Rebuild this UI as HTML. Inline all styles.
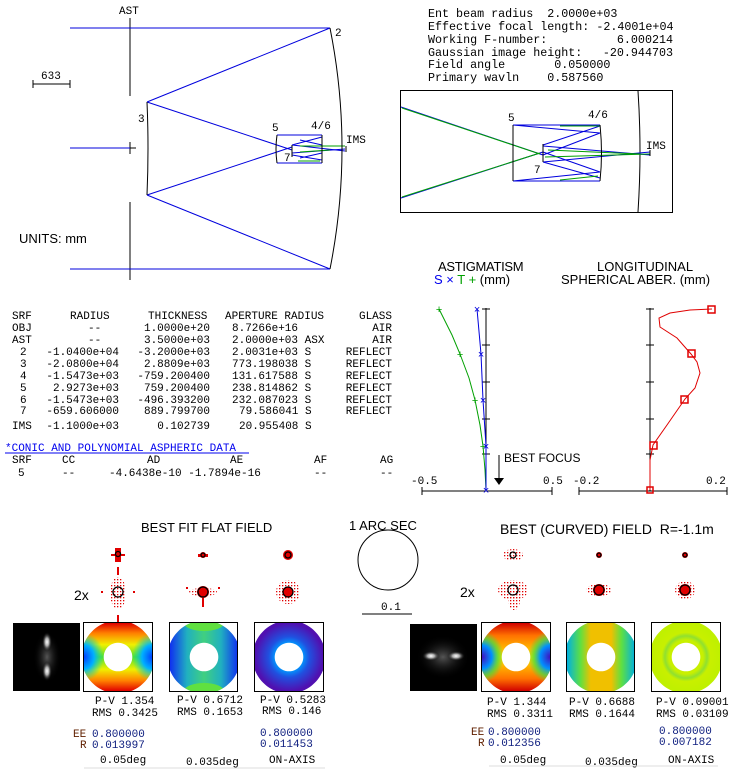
<!DOCTYPE html>
<html><head><meta charset="utf-8"><style>
body{margin:0;background:#fff;}
svg{display:block;}
text{white-space:pre;}
.m{font-family:"Liberation Mono",monospace;font-size:11px;fill:#000;}
.t{font-family:"Liberation Mono",monospace;font-size:11.7px;fill:#000;}
.s{font-family:"Liberation Sans",sans-serif;fill:#000;}
.b{fill:#0000ee}
</style></head><body>
<svg width="743" height="773" viewBox="0 0 743 773" xmlns="http://www.w3.org/2000/svg">
<defs>
<clipPath id="annU" clipPathUnits="userSpaceOnUse"><path clip-rule="evenodd" d="M34,-2.5A36.5,36.5 0 1,1 33.99,-2.5ZM34,19.7A14.3,14.3 0 1,0 34.01,19.7Z"/></clipPath>
<pattern id="dots" width="3" height="3" patternUnits="userSpaceOnUse"><rect width="1.3" height="1.3" fill="#e00000"/></pattern>
<linearGradient id="v1" x1="0" y1="0" x2="0" y2="1"><stop offset="0" stop-color="#e00000"/><stop offset=".15" stop-color="#ff8000"/><stop offset=".32" stop-color="#f0f000"/><stop offset=".5" stop-color="#50e030"/><stop offset=".68" stop-color="#f0f000"/><stop offset=".85" stop-color="#ff8000"/><stop offset="1" stop-color="#e00000"/></linearGradient>
<radialGradient id="sideB"><stop offset="0" stop-color="#0040ff"/><stop offset=".5" stop-color="#00b0ff"/><stop offset="1" stop-color="#00e0a0" stop-opacity="0"/></radialGradient>
<radialGradient id="sideP"><stop offset="0" stop-color="#4010c0"/><stop offset=".45" stop-color="#0090ff"/><stop offset=".75" stop-color="#40e040" stop-opacity=".7"/><stop offset="1" stop-color="#40e040" stop-opacity="0"/></radialGradient>
<linearGradient id="v2" x1="0" y1="0" x2="1" y2="0"><stop offset="0" stop-color="#1030f0"/><stop offset=".25" stop-color="#20b0c0"/><stop offset=".5" stop-color="#40d080"/><stop offset=".75" stop-color="#20b0c0"/><stop offset="1" stop-color="#1030f0"/></linearGradient>
<radialGradient id="r3"><stop offset=".4" stop-color="#0098ff"/><stop offset=".6" stop-color="#2050e0"/><stop offset="1" stop-color="#5010b0"/></radialGradient>
<linearGradient id="v4" x1="0" y1="0" x2="0" y2="1"><stop offset="0" stop-color="#d00000"/><stop offset=".18" stop-color="#ff7000"/><stop offset=".4" stop-color="#ffc000"/><stop offset=".5" stop-color="#f0e000"/><stop offset=".6" stop-color="#ffc000"/><stop offset=".82" stop-color="#ff7000"/><stop offset="1" stop-color="#d00000"/></linearGradient>
<linearGradient id="v5" x1="0" y1="0" x2="1" y2="0"><stop offset="0" stop-color="#00b0e0"/><stop offset=".2" stop-color="#60e040"/><stop offset=".35" stop-color="#f0c000"/><stop offset=".65" stop-color="#f0c000"/><stop offset=".8" stop-color="#60e040"/><stop offset="1" stop-color="#00b0e0"/></linearGradient>
<radialGradient id="r6"><stop offset=".5" stop-color="#c8f000"/><stop offset=".62" stop-color="#90e030"/><stop offset=".72" stop-color="#c8f000"/><stop offset="1" stop-color="#c0f000"/></radialGradient>
<radialGradient id="blob"><stop offset="0" stop-color="#fff"/><stop offset=".4" stop-color="#aaa"/><stop offset="1" stop-color="#000" stop-opacity="0"/></radialGradient>
<radialGradient id="halo"><stop offset="0" stop-color="#555"/><stop offset="1" stop-color="#000" stop-opacity="0"/></radialGradient>
</defs>

<!-- top left layout -->
<text x="119" y="14" class="m">AST</text>
<line x1="130" y1="18" x2="130" y2="96" stroke="#000"/>
<line x1="130" y1="202" x2="130" y2="280" stroke="#000"/>
<line x1="130" y1="142" x2="130" y2="154" stroke="#000"/>
<line x1="124" y1="148" x2="136" y2="148" stroke="#000"/>
<g stroke="#0000dd" fill="none">
<line x1="70" y1="28" x2="330" y2="28"/><line x1="70" y1="269" x2="330" y2="269"/><line x1="70" y1="148" x2="130" y2="148"/>
<line x1="330" y1="28" x2="147" y2="102"/><line x1="330" y1="269" x2="147" y2="195"/>
<line x1="147" y1="102" x2="292" y2="150"/><line x1="147" y1="195" x2="292" y2="147"/>
<line x1="277" y1="135" x2="322" y2="135"/><line x1="277" y1="163" x2="322" y2="163"/>
<line x1="322" y1="137" x2="292" y2="145"/><line x1="322" y1="160" x2="292" y2="155"/>
<line x1="292" y1="145" x2="345" y2="151"/><line x1="292" y1="153" x2="345" y2="149"/>
<line x1="300" y1="140" x2="322" y2="145"/><line x1="300" y1="158" x2="322" y2="153"/>
</g>
<g stroke="#00a000" fill="none"><line x1="300" y1="146" x2="345" y2="146"/><line x1="300" y1="152" x2="330" y2="150"/><line x1="298" y1="161" x2="320" y2="161"/></g>
<path d="M330,28 Q354,148 330,269" stroke="#000" fill="none"/>
<path d="M147,102 Q149,148 147,195" stroke="#000" fill="none"/>
<path d="M277,135 Q275,149 277,163" stroke="#000" fill="none"/>
<line x1="322" y1="135" x2="322" y2="163" stroke="#000"/>
<line x1="292" y1="145" x2="292" y2="157" stroke="#000"/>
<line x1="346" y1="146" x2="346" y2="152" stroke="#000"/>
<text x="335" y="36" class="m">2</text>
<text x="138" y="122" class="m">3</text>
<text x="272" y="131" class="m">5</text>
<text x="311" y="129" class="m">4/6</text>
<text x="284" y="161" class="m">7</text>
<text x="346" y="143" class="m">IMS</text>
<text x="41" y="79" class="m">633</text>
<line x1="33" y1="84" x2="70" y2="84" stroke="#000"/><line x1="33" y1="80" x2="33" y2="88" stroke="#000"/><line x1="70" y1="80" x2="70" y2="88" stroke="#000"/>
<text x="19" y="243" class="s" font-size="13">UNITS: mm</text>

<!-- top right text -->
<g class="t"><text x="428" y="17">Ent beam radius  2.0000e+03</text>
<text x="428" y="30">Effective focal length: -2.4001e+04</text>
<text x="428" y="43">Working F-number:</text><text x="673" y="43" text-anchor="end">6.000214</text>
<text x="428" y="56">Gaussian image height:</text><text x="673" y="56" text-anchor="end">-20.944703</text>
<text x="428" y="68">Field angle       0.050000</text>
<text x="428" y="81">Primary wavln    0.587560</text></g>
<rect x="400.5" y="90.5" width="272" height="122" fill="none" stroke="#000"/>
<path d="M638,91 Q642,151 638,212" stroke="#000" fill="none"/>
<g stroke="#0000dd" fill="none">
<line x1="401" y1="107" x2="543" y2="155"/><line x1="401" y1="198" x2="543" y2="152"/>
<line x1="513" y1="125" x2="600" y2="125"/><line x1="513" y1="181" x2="600" y2="181"/>
<line x1="600" y1="126" x2="543" y2="145"/><line x1="600" y1="133" x2="543" y2="155"/>
<line x1="543" y1="146" x2="650" y2="155"/><line x1="543" y1="162" x2="650" y2="152"/>
<line x1="543" y1="152" x2="600" y2="172"/><line x1="543" y1="162" x2="600" y2="178"/>
<line x1="513" y1="125" x2="600" y2="133"/><line x1="513" y1="181" x2="600" y2="172"/>
</g>
<g stroke="#00a000" fill="none">
<line x1="402" y1="108" x2="540" y2="154"/><line x1="402" y1="197" x2="540" y2="153"/>
<line x1="545" y1="157" x2="650" y2="154"/><line x1="548" y1="150" x2="640" y2="154"/>
<line x1="560" y1="126" x2="600" y2="126"/><line x1="560" y1="180" x2="598" y2="176"/>
</g>
<line x1="513" y1="125" x2="513" y2="181" stroke="#000"/>
<path d="M600,125 Q603,153 600,181" stroke="#000" fill="none"/>
<line x1="543" y1="144" x2="543" y2="162" stroke="#000"/>
<line x1="650" y1="150" x2="650" y2="156" stroke="#000"/>
<text x="508" y="121" class="m">5</text>
<text x="588" y="118" class="m">4/6</text>
<text x="534" y="173" class="m">7</text>
<text x="646" y="149" class="m">IMS</text>

<!-- table -->
<g class="m">
<text x="12" y="319">SRF</text><text x="70" y="319">RADIUS</text><text x="148" y="319">THICKNESS</text><text x="225" y="319">APERTURE RADIUS</text><text x="392" y="319" text-anchor="end">GLASS</text>
<text x="12" y="331">OBJ</text><text x="88" y="331">--</text><text x="210" y="331" text-anchor="end">1.0000e+20</text><text x="232" y="331">8.7266e+16</text><text x="392" y="331" text-anchor="end">AIR</text>
<text x="12" y="343">AST</text><text x="88" y="343">--</text><text x="210" y="343" text-anchor="end">3.5000e+03</text><text x="232" y="343">2.0000e+03 ASX</text><text x="392" y="343" text-anchor="end">AIR</text>
<text x="20" y="355">2</text><text x="119" y="355" text-anchor="end">-1.0400e+04</text><text x="210" y="355" text-anchor="end">-3.2000e+03</text><text x="232" y="355">2.0031e+03 S</text><text x="392" y="355" text-anchor="end">REFLECT</text>
<text x="20" y="367">3</text><text x="119" y="367" text-anchor="end">-2.0800e+04</text><text x="210" y="367" text-anchor="end">2.8809e+03</text><text x="232" y="367">773.198038 S</text><text x="392" y="367" text-anchor="end">REFLECT</text>
<text x="20" y="379">4</text><text x="119" y="379" text-anchor="end">-1.5473e+03</text><text x="210" y="379" text-anchor="end">-759.200400</text><text x="232" y="379">131.617588 S</text><text x="392" y="379" text-anchor="end">REFLECT</text>
<text x="20" y="391">5</text><text x="119" y="391" text-anchor="end">2.9273e+03</text><text x="210" y="391" text-anchor="end">759.200400</text><text x="232" y="391">238.814862 S</text><text x="392" y="391" text-anchor="end">REFLECT</text>
<text x="20" y="403">6</text><text x="119" y="403" text-anchor="end">-1.5473e+03</text><text x="210" y="403" text-anchor="end">-496.393200</text><text x="232" y="403">232.087023 S</text><text x="392" y="403" text-anchor="end">REFLECT</text>
<text x="20" y="414">7</text><text x="119" y="414" text-anchor="end">-659.606000</text><text x="210" y="414" text-anchor="end">889.799700</text><text x="239" y="414">79.586041 S</text><text x="392" y="414" text-anchor="end">REFLECT</text>
<text x="12" y="429">IMS</text><text x="119" y="429" text-anchor="end">-1.1000e+03</text><text x="210" y="429" text-anchor="end">0.102739</text><text x="239" y="429">20.955408 S</text>
<text x="5" y="451" class="b">*CONIC AND POLYNOMIAL ASPHERIC DATA</text>
<text x="12" y="463">SRF</text><text x="62" y="463">CC</text><text x="147" y="463">AD</text><text x="230" y="463">AE</text><text x="314" y="463">AF</text><text x="380" y="463">AG</text>
<text x="18" y="476">5</text><text x="62" y="476">--</text><text x="109" y="476">-4.6438e-10 -1.7894e-16</text><text x="314" y="476">--</text><text x="380" y="476">--</text>
</g>
<line x1="5" y1="453" x2="249" y2="453" stroke="#0000ee"/>

<!-- astigmatism -->
<text x="438" y="271" class="s" font-size="13" letter-spacing="-.3">ASTIGMATISM</text>
<text x="434" y="284" class="s" font-size="13"><tspan fill="#0000ee">S ×</tspan> <tspan fill="#00a000">T +</tspan> (mm)</text>
<line x1="486" y1="308" x2="486" y2="491" stroke="#000"/>
<line x1="422" y1="491" x2="552" y2="491" stroke="#000"/>
<g stroke="#000"><line x1="482" y1="309" x2="490" y2="309"/><line x1="482" y1="345" x2="490" y2="345"/><line x1="482" y1="382" x2="490" y2="382"/><line x1="482" y1="419" x2="490" y2="419"/><line x1="482" y1="454" x2="490" y2="454"/><line x1="422" y1="487" x2="422" y2="495"/><line x1="552" y1="487" x2="552" y2="495"/></g>
<text x="411" y="484" class="m">-0.5</text><text x="543" y="484" class="m">0.5</text>
<polyline points="439,309 452,335 460,354 469,378 475,400 480,425 483,446 485,470 486,490" fill="none" stroke="#00a000"/>
<polyline points="477,309 481,354 483,400 486,446 486,490" fill="none" stroke="#0000dd"/>
<g fill="#00a000" font-family="Liberation Mono" font-size="11" text-anchor="middle"><text x="439" y="313">+</text><text x="460" y="358">+</text><text x="475" y="404">+</text><text x="483" y="450">+</text></g>
<g fill="#0000dd" font-family="Liberation Mono" font-size="11" text-anchor="middle"><text x="477" y="313">×</text><text x="481" y="358">×</text><text x="483" y="404">×</text><text x="486" y="450">×</text><text x="486" y="494">×</text></g>
<line x1="499" y1="455" x2="499" y2="479" stroke="#000"/>
<polygon points="494,478 504,478 499,485" fill="#000"/>
<text x="504" y="462" class="s" font-size="12">BEST FOCUS</text>

<!-- spherical -->
<text x="597" y="271" class="s" font-size="13">LONGITUDINAL</text>
<text x="561" y="284" class="s" font-size="13">SPHERICAL ABER. (mm)</text>
<line x1="650" y1="308" x2="650" y2="491" stroke="#000"/>
<line x1="579" y1="491" x2="727" y2="491" stroke="#000"/>
<g stroke="#000"><line x1="646" y1="309" x2="654" y2="309"/><line x1="646" y1="345" x2="654" y2="345"/><line x1="646" y1="382" x2="654" y2="382"/><line x1="646" y1="419" x2="654" y2="419"/><line x1="646" y1="454" x2="654" y2="454"/><line x1="579" y1="487" x2="579" y2="495"/><line x1="727" y1="487" x2="727" y2="495"/></g>
<text x="573" y="484" class="m">-0.2</text><text x="706" y="484" class="m">0.2</text>
<polyline points="650,490 650,460 653,445 667,425 685,399 695,388 700,373 697,362 691,354 677,338 660,327 659,318 670,313 690,310 712,309" fill="none" stroke="#e00000"/>
<g fill="none" stroke="#e00000" stroke-width="1.5"><rect x="708" y="306" width="7" height="7"/><rect x="688" y="350" width="7" height="7"/><rect x="681" y="396" width="7" height="7"/><rect x="650" y="442" width="7" height="7"/><rect x="647" y="487" width="6" height="6"/></g>

<!-- bottom titles -->
<text x="141" y="532" class="s" font-size="13">BEST FIT FLAT FIELD</text>
<text x="349" y="530" class="s" font-size="13">1 ARC SEC</text>
<circle cx="388" cy="560" r="30" fill="none" stroke="#000"/>
<line x1="362" y1="614" x2="412" y2="614" stroke="#000"/>
<text x="381" y="610" class="m" font-size="9">0.1</text>
<text x="500" y="534" class="s" font-size="14">BEST (CURVED) FIELD  R=-1.1m</text>
<text x="74" y="600" class="s" font-size="14">2x</text>
<text x="460" y="597" class="s" font-size="14">2x</text>

<!-- spots (dotted) -->
<g fill="url(#dots)">
<ellipse cx="118" cy="593" rx="8" ry="16"/>
<ellipse cx="288" cy="592" rx="12" ry="12"/>
<ellipse cx="513" cy="590" rx="15" ry="10"/>
<ellipse cx="514" cy="600" rx="6" ry="10"/>
<ellipse cx="599" cy="590" rx="13" ry="6"/>
<ellipse cx="685" cy="590" rx="10" ry="9"/>
<ellipse cx="513" cy="555" rx="10" ry="6"/>
<ellipse cx="203" cy="592" rx="14" ry="4"/>
</g>
<g fill="#e00000">
<g transform="translate(118,555)"><rect x="-3" y="-7" width="6" height="14"/><rect x="-7" y="-1" width="14" height="2"/></g>
<g transform="translate(203,555)"><rect x="-5" y="-1" width="10" height="3"/><circle r="3"/></g>
<g transform="translate(288,555)"><circle r="5"/></g>
<rect x="117" y="615" width="2" height="10"/><rect x="117" y="567" width="2" height="8"/>
<rect x="101" y="591" width="2" height="2"/><rect x="133" y="591" width="2" height="2"/>
<g transform="translate(203,592)"><circle r="6"/><rect x="-1" y="6" width="2" height="9"/><rect x="-17" y="-5" width="2" height="2"/><rect x="15" y="-5" width="2" height="2"/></g>
<circle cx="288" cy="592" r="5"/>
<g transform="translate(599,555)"><circle r="3"/></g>
<g transform="translate(685,555)"><circle r="3"/></g>
<circle cx="599" cy="590" r="6"/>
<circle cx="685" cy="590" r="6"/>
</g>
<g fill="none" stroke="#000" stroke-width="1.3">
<circle cx="118" cy="554" r="2.5"/><circle cx="203" cy="555" r="2"/><circle cx="288" cy="555" r="3"/>
<circle cx="118" cy="592" r="5"/><circle cx="203" cy="592" r="5"/><circle cx="288" cy="592" r="5"/>
<circle cx="513" cy="555" r="3"/><circle cx="599" cy="555" r="2"/><circle cx="685" cy="555" r="2"/>
<circle cx="513" cy="590" r="5"/><circle cx="599" cy="590" r="5"/><circle cx="685" cy="590" r="5"/>
</g>

<!-- PSFs -->
<rect x="13" y="623" width="67" height="68" fill="#000"/>
<ellipse cx="47" cy="657" rx="14" ry="26" fill="url(#halo)"/>
<ellipse cx="47" cy="642" rx="5" ry="10" fill="url(#blob)"/>
<ellipse cx="47" cy="671" rx="5" ry="10" fill="url(#blob)"/>
<rect x="410" y="624" width="67" height="67" fill="#000"/>
<ellipse cx="443" cy="657" rx="27" ry="22" fill="url(#halo)"/>
<ellipse cx="431" cy="656" rx="9" ry="5" fill="url(#blob)"/>
<ellipse cx="456" cy="656" rx="9" ry="5" fill="url(#blob)"/>

<!-- wavefronts -->
<svg x="84" y="623" width="68" height="68" viewBox="0 0 68 68">
<g clip-path="url(#annU)"><rect width="68" height="68" fill="url(#v1)"/>
<ellipse cx="0" cy="34" rx="20" ry="24" fill="url(#sideB)"/><ellipse cx="68" cy="34" rx="20" ry="24" fill="url(#sideB)"/></g></svg>
<svg x="170" y="623" width="68" height="68" viewBox="0 0 68 68"><g clip-path="url(#annU)"><rect width="68" height="68" fill="url(#v2)"/><ellipse cx="34" cy="0" rx="20" ry="8" fill="#60e040"/><ellipse cx="34" cy="68" rx="20" ry="8" fill="#60e040"/></g></svg>
<svg x="255" y="623" width="68" height="68" viewBox="0 0 68 68"><g clip-path="url(#annU)"><rect width="68" height="68" fill="url(#r3)"/></g></svg>
<svg x="482" y="623" width="68" height="68" viewBox="0 0 68 68"><g clip-path="url(#annU)"><rect width="68" height="68" fill="url(#v4)"/>
<ellipse cx="0" cy="34" rx="22" ry="26" fill="url(#sideP)"/><ellipse cx="68" cy="34" rx="22" ry="26" fill="url(#sideP)"/></g></svg>
<svg x="567" y="623" width="68" height="68" viewBox="0 0 68 68"><g clip-path="url(#annU)"><rect width="68" height="68" fill="url(#v5)"/></g></svg>
<svg x="652" y="623" width="68" height="68" viewBox="0 0 68 68"><g clip-path="url(#annU)"><rect width="68" height="68" fill="url(#r6)"/></g></svg>
<g fill="none" stroke="#000"><rect x="83.5" y="622.5" width="69" height="69"/><rect x="169.5" y="622.5" width="68" height="69"/><rect x="254.5" y="622.5" width="69" height="69"/><rect x="481.5" y="622.5" width="69" height="69"/><rect x="566.5" y="622.5" width="68" height="69"/><rect x="651.5" y="622.5" width="69" height="69"/></g>

<g class="m" font-size="10">
<text x="95" y="704">P-V 1.354</text><text x="92" y="716">RMS 0.3425</text>
<text x="177" y="703">P-V 0.6712</text><text x="177" y="715">RMS 0.1653</text>
<text x="260" y="703">P-V 0.5283</text><text x="262" y="714">RMS 0.146</text>
<text x="487" y="705">P-V 1.344</text><text x="487" y="717">RMS 0.3311</text>
<text x="569" y="705">P-V 0.6688</text><text x="569" y="717">RMS 0.1644</text>
<text x="656" y="705">P-V 0.09001</text><text x="656" y="717">RMS 0.03109</text>
<text x="100" y="763">0.05deg</text><text x="186" y="765">0.035deg</text><text x="269" y="763">ON-AXIS</text>
<text x="500" y="763">0.05deg</text><text x="585" y="765">0.035deg</text><text x="668" y="763">ON-AXIS</text>
</g>
<g class="m" font-size="11">
<text x="73" y="737" fill="#602000">EE</text><text x="92" y="737" fill="#102080">0.800000</text>
<text x="80" y="748" fill="#602000">R</text><text x="92" y="748" fill="#102080">0.013997</text>
<text x="260" y="736" fill="#102080">0.800000</text><text x="260" y="747" fill="#102080">0.011453</text>
<text x="471" y="735" fill="#602000">EE</text><text x="488" y="735" fill="#102080">0.800000</text>
<text x="478" y="746" fill="#602000">R</text><text x="488" y="746" fill="#102080">0.012356</text>
<text x="659" y="734" fill="#102080">0.800000</text><text x="659" y="745" fill="#102080">0.007182</text>
</g>
<line x1="84" y1="768" x2="325" y2="768" stroke="#ddd"/>
<line x1="489" y1="766" x2="718" y2="766" stroke="#ddd"/>
</svg>
</body></html>
